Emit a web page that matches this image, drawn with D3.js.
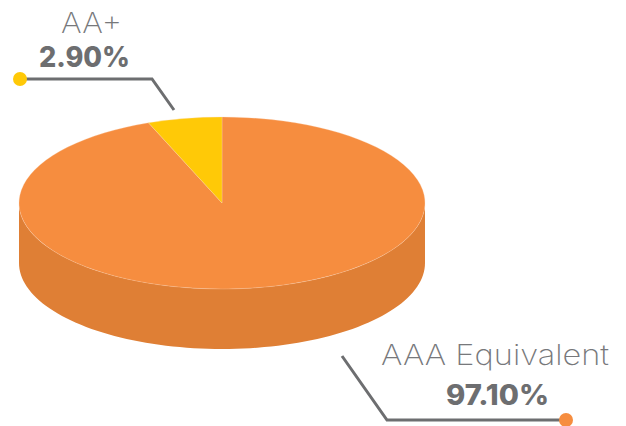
<!DOCTYPE html>
<html>
<head>
<meta charset="utf-8">
<script src="https://cdn.jsdelivr.net/npm/d3@7"></script>
<style>
  html, body { margin: 0; padding: 0; background: #fff; }
  svg { display: block; }
  text { font-family: "Inter", "Lato", sans-serif; text-anchor: middle; }
</style>
</head>
<body>
<svg id="chart" width="626" height="426"></svg>
<script>
const categories = ["AAA Equivalent", "AA+"];
const percentLabels = ["97.10%", "2.90%"];
const drawnShares = [94.1, 5.9];
const colors = ["#f68d3f", "#ffc907"];

const width = 626, height = 426;
const cx = 222, cy = 203;
const rx = 203, ry = 86;
const depth = 60;
const grey = "#6d6e70";

const svg = d3.select("#chart").attr("width", width).attr("height", height);

// side wall, front half of the ellipse only
const wallAngles = d3.range(0, Math.PI + 0.001, Math.PI / 90);
const wall = d3.area()
    .x(a => cx + rx * Math.cos(a))
    .y0(a => cy + ry * Math.sin(a))
    .y1(a => cy + depth + ry * Math.sin(a));

svg.append("path")
    .attr("d", wall(wallAngles))
    .attr("fill", "#df7f35");

// top face, a normal pie squashed into an ellipse
const pie = d3.pie().sort(null).value((d, i) => drawnShares[i]);
const arc = d3.arc().innerRadius(0).outerRadius(rx);

svg.append("g")
    .attr("transform", "translate(" + cx + "," + cy + ") scale(1," + (ry / rx) + ")")
    .selectAll("path")
    .data(pie(categories))
    .enter()
    .append("path")
    .attr("d", arc)
    .attr("fill", (d, i) => colors[i])
    .attr("stroke", "#fbd9bd")
    .attr("stroke-width", 0.4);

// leader lines
const leaders = [
    [[342, 356], [387, 420], [566, 420]],
    [[174, 110], [152, 79], [20, 79]]
];
const line = d3.line();

svg.selectAll(".leader")
    .data(leaders)
    .enter()
    .append("path")
    .attr("class", "leader")
    .attr("d", line)
    .attr("fill", "none")
    .attr("stroke", grey)
    .attr("stroke-width", 3);

svg.selectAll(".dot")
    .data(leaders)
    .enter()
    .append("circle")
    .attr("class", "dot")
    .attr("cx", d => d[2][0])
    .attr("cy", d => d[2][1])
    .attr("r", 7)
    .attr("fill", (d, i) => colors[i]);

// labels, stretched to the widths of the wider original font
const namePos = [[495, 365], [91.5, 33]];
const nameWidths = [228, 61];
const valuePos = [[497.5, 405], [84.5, 67]];
const valueWidths = [103, 91];

svg.selectAll(".name")
    .data(categories)
    .enter()
    .append("text")
    .attr("class", "name")
    .attr("x", (d, i) => namePos[i][0])
    .attr("y", (d, i) => namePos[i][1])
    .attr("textLength", (d, i) => nameWidths[i])
    .attr("lengthAdjust", "spacingAndGlyphs")
    .attr("font-size", 28)
    .attr("font-weight", 200)
    .attr("fill", "#77787b")
    .text(d => d);

svg.selectAll(".value")
    .data(percentLabels)
    .enter()
    .append("text")
    .attr("class", "value")
    .attr("x", (d, i) => valuePos[i][0])
    .attr("y", (d, i) => valuePos[i][1])
    .attr("textLength", (d, i) => valueWidths[i])
    .attr("lengthAdjust", "spacingAndGlyphs")
    .attr("font-size", 28)
    .attr("font-weight", 800)
    .attr("fill", grey)
    .text(d => d);
</script>
</body>
</html>
